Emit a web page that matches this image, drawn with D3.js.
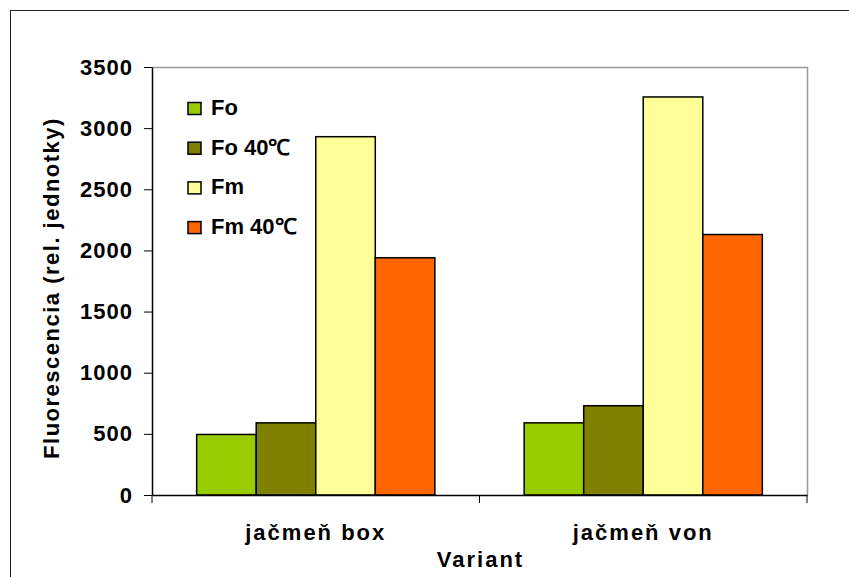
<!DOCTYPE html>
<html>
<head>
<meta charset="utf-8">
<script src="https://cdn.jsdelivr.net/npm/d3@7"></script>
<style>
  body { margin: 0; background: #fff; }
  text { font-family: "Liberation Sans", Arial, sans-serif; font-weight: bold; fill: #000; }
</style>
</head>
<body>
<script>
// data
var categories = ["jačmeň box", "jačmeň von"];
var seriesNames = ["Fo", "Fo 40℃", "Fm", "Fm 40℃"];
var seriesColors = ["#99cc00", "#808000", "#ffff99", "#ff6600"];
var foValues = [495, 590];
var fo40Values = [590, 730];
var fmValues = [2930, 3255];
var fm40Values = [1940, 2130];
var yTicks = [0, 500, 1000, 1500, 2000, 2500, 3000, 3500];

var allSeries = [foValues, fo40Values, fmValues, fm40Values];

var W = 849, H = 577;
var plot = {left: 152, top: 67, right: 807, bottom: 495};
var fs = "22px";

var svg = d3.select("body").append("svg").attr("width", W).attr("height", H);

// outer frame
svg.append("rect").attr("x", 10.5).attr("y", 10.5).attr("width", W).attr("height", H)
  .attr("fill", "none").attr("stroke", "#222").attr("stroke-width", 1);

var x0 = d3.scaleBand().domain(categories).range([plot.left, plot.right]);
var bw = x0.bandwidth() / 5.5;
var x1 = d3.scaleBand().domain(seriesNames).range([0, bw * 4]);
var y = d3.scaleLinear().domain([0, 3500]).range([plot.bottom, plot.top]);

// plot area border (gray top/right)
svg.append("path")
  .attr("d", "M" + plot.left + "," + (plot.top + 0.5) + "H" + (plot.right + 0.5) + "V" + plot.bottom)
  .attr("fill", "none").attr("stroke", "#999").attr("stroke-width", 1.5);

// bars
var groups = svg.selectAll("g.cat").data(categories).enter().append("g")
  .attr("transform", function (d) { return "translate(" + (x0(d) + (x0.bandwidth() - bw * 4) / 2) + ",0)"; });

groups.selectAll("rect").data(function (d, i) {
  return seriesNames.map(function (s, j) { return {s: s, v: allSeries[j][i], c: seriesColors[j]}; });
}).enter().append("rect")
  .attr("x", function (d) { return x1(d.s); })
  .attr("y", function (d) { return y(d.v); })
  .attr("width", x1.bandwidth())
  .attr("height", function (d) { return plot.bottom - y(d.v); })
  .attr("fill", function (d) { return d.c; })
  .attr("stroke", "#000").attr("stroke-width", 1.5);

// y axis
var yAxis = svg.append("g").attr("transform", "translate(" + plot.left + ",0)")
  .call(d3.axisLeft(y).tickValues(yTicks).tickFormat(d3.format("d")).tickSize(8).tickPadding(11).tickSizeOuter(0));
yAxis.select(".domain").attr("stroke", "#000").attr("stroke-width", 1.5);
yAxis.selectAll("line").attr("stroke", "#000");
yAxis.selectAll("text").style("font-size", fs).style("letter-spacing", "1px").attr("fill", "#000");

// x axis
var xAxis = svg.append("g").attr("transform", "translate(0," + plot.bottom + ")")
  .call(d3.axisBottom(x0).tickSize(0));
xAxis.select(".domain").attr("stroke", "#000").attr("stroke-width", 1.5);
xAxis.selectAll("text").style("font-size", fs).style("letter-spacing", "2px")
  .attr("fill", "#000").attr("y", 45).attr("dy", 0);
xAxis.selectAll("line.sep").data([plot.left, x0(categories[1]), plot.right]).enter()
  .append("line").attr("class", "sep")
  .attr("x1", function (d) { return d; }).attr("x2", function (d) { return d; })
  .attr("y1", 0).attr("y2", 8).attr("stroke", "#000");

// axis titles
svg.append("text").attr("x", (plot.left + plot.right) / 2 + 1).attr("y", 567)
  .attr("text-anchor", "middle").style("font-size", fs).style("letter-spacing", "2px").text("Variant");
svg.append("text").attr("transform", "translate(59,288) rotate(-90)")
  .attr("text-anchor", "middle").style("font-size", fs).style("letter-spacing", "1.5px")
  .text("Fluorescencia (rel. jednotky)");

// legend
var legend = svg.append("g").attr("transform", "translate(188,102.5)");
var li = legend.selectAll("g").data(seriesNames).enter().append("g")
  .attr("transform", function (d, i) { return "translate(0," + (i * 39.7) + ")"; });
li.append("rect").attr("width", 13).attr("height", 12)
  .attr("fill", function (d, i) { return seriesColors[i]; })
  .attr("stroke", "#000").attr("stroke-width", 1.5);
li.append("text").attr("x", 23).attr("y", 12.5).style("font-size", fs).text(function (d) { return d; });
</script>
</body>
</html>
